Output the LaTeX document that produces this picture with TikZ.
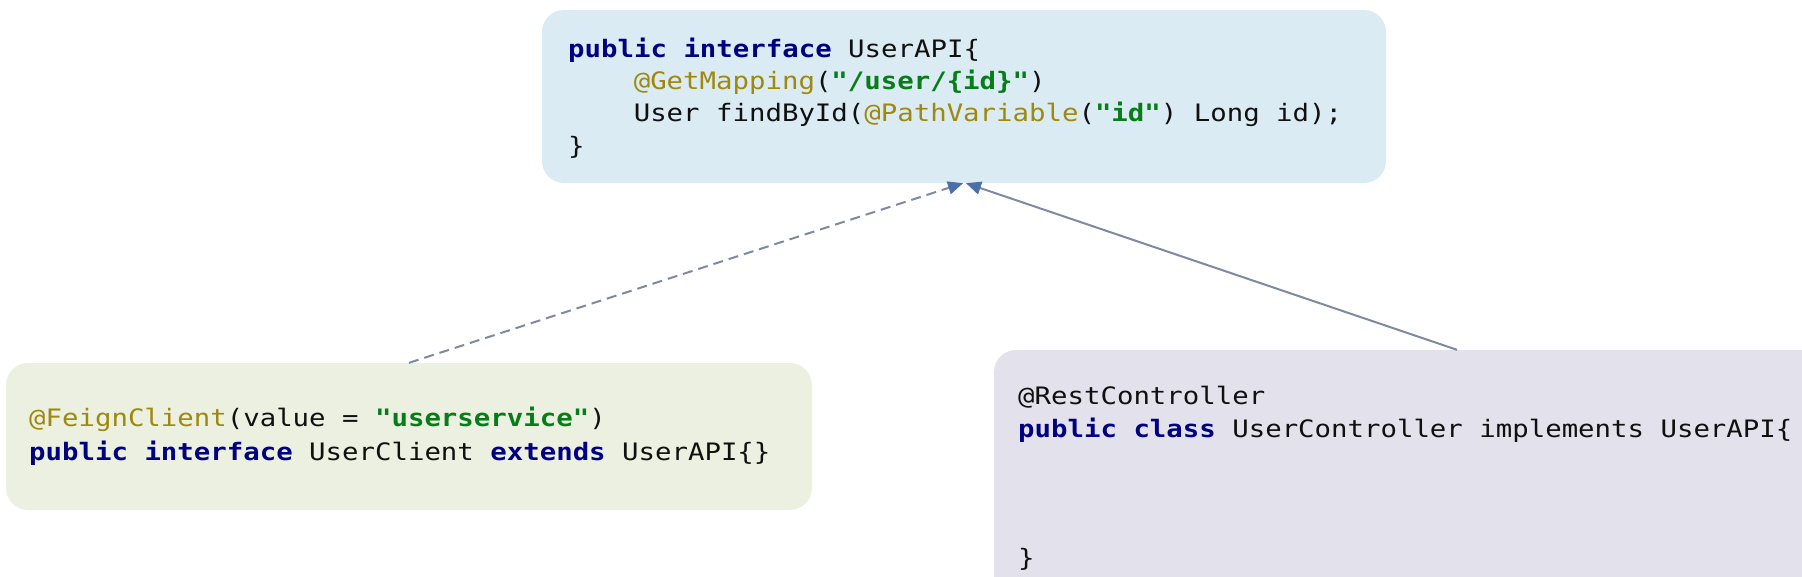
\documentclass[tikz,border=0pt]{standalone}
\usepackage{fontspec}
\usetikzlibrary{arrows.meta,calc}
\newfontfamily\codefont[FakeStretch=1.14]{DejaVu Sans Mono}
\definecolor{kw}{HTML}{000080}
\definecolor{ann}{HTML}{9E880D}
\definecolor{str}{HTML}{067D17}
\definecolor{txt}{HTML}{101010}
\definecolor{bluebox}{HTML}{DAEBF4}
\definecolor{greenbox}{HTML}{EBF0E0}
\definecolor{purplebox}{HTML}{E3E1EC}
\definecolor{lineclr}{HTML}{8089A3}
\definecolor{tipclr}{HTML}{4C6FA8}
\newcommand{\kwd}[1]{\textcolor{kw}{\bfseries #1}}
\newcommand{\annt}[1]{\textcolor{ann}{#1}}
\newcommand{\strg}[1]{\textcolor{str}{\bfseries #1}}
\tikzset{
  codebox/.style={draw=none, rounded corners=22pt, inner sep=0pt},
  codeline/.style={anchor=base west, inner sep=0pt, text=txt,
    font=\codefont\fontsize{24}{28}\selectfont},
  link/.style={draw=lineclr, line width=2pt,
    -{Triangle[length=15pt,width=13pt,color=tipclr]}},
}
\begin{document}
\begin{tikzpicture}[x=1pt,y=-1pt]
\useasboundingbox (0,0) rectangle (1802,576);
\clip (0,0) rectangle (1802,576);
% boxes
\node[codebox, fill=bluebox, minimum width=844pt, minimum height=173pt] (top) at (964,96.5) {};
\node[codebox, fill=greenbox, minimum width=806pt, minimum height=147pt] (left) at (409,436.5) {};
\node[codebox, fill=purplebox, minimum width=926pt, minimum height=450pt] (right) at (1457,575) {};
% top text
\node[codeline] (t1) at (568,57) {\kwd{public} \kwd{interface} UserAPI\{};
\node[codeline] (t2) at (633.6,89) {\annt{@GetMapping}(\strg{"/user/\{id\}"})};
\node[codeline] (t3) at (633.6,121.5) {User findById(\annt{@PathVariable}(\strg{"id"}) Long id);};
\node[codeline] (t4) at (568,154) {\}};
% left text
\node[codeline] (l1) at (29,426.5) {\annt{@FeignClient}(value = \strg{"userservice"})};
\node[codeline] (l2) at (29,460) {\kwd{public} \kwd{interface} UserClient \kwd{extends} UserAPI\{\}};
% right text
\node[codeline] (r1) at (1018,404) {@RestController};
\node[codeline] (r2) at (1018,437) {\kwd{public} \kwd{class} UserController implements UserAPI\{};
\node[codeline] (r3) at (1018,566) {\}};
% connectors
\draw[link, dash pattern=on 10pt off 6pt] (left.north) -- ([xshift=-1pt]top.south);
\draw[link] (right.north) -- ([xshift=2pt]top.south);
\end{tikzpicture}
\end{document}
